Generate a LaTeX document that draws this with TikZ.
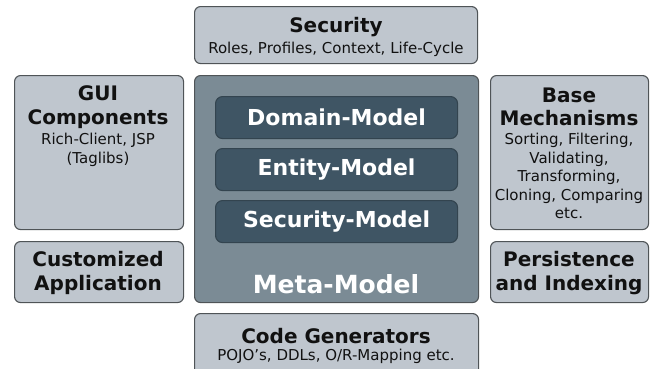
\documentclass[tikz,border=0pt]{standalone}
\usepackage{fontspec}
\setmainfont{DejaVu Sans}
\definecolor{lightfill}{HTML}{BFC6CE}
\definecolor{edgegrey}{HTML}{4F5457}
\definecolor{metafill}{HTML}{7B8B95}
\definecolor{innerfill}{HTML}{3F5564}
\definecolor{inneredge}{HTML}{33444F}
\definecolor{inktext}{HTML}{111111}
\tikzset{
  boxbase/.style={rounded corners=6pt, line width=1.1pt, inner sep=0pt, anchor=north west},
  lightbox/.style={boxbase, draw=edgegrey, fill=lightfill},
  metabox/.style={boxbase, draw=edgegrey, fill=metafill},
  innerbox/.style={boxbase, draw=inneredge, fill=innerfill, rounded corners=7pt},
  titletext/.style={font=\fontsize{20}{23.5}\selectfont\bfseries, text=inktext, align=center, inner sep=0pt},
  subtext/.style={font=\fontsize{15}{18.5}\selectfont, text=inktext, align=center, inner sep=0pt},
  innertext/.style={font=\fontsize{22}{24}\selectfont\bfseries, text=white, inner sep=0pt},
  metatext/.style={font=\fontsize{25}{27}\selectfont\bfseries, text=white, inner sep=0pt},
}
\begin{document}
\begin{tikzpicture}[x=1pt,y=-1pt]
\useasboundingbox (0,0) rectangle (650,368);
% boxes
\node[lightbox, minimum width=283pt, minimum height=57pt] (secbox) at (194,6) {};
\node[lightbox, minimum width=169pt, minimum height=154pt] (guibox) at (14,75) {};
\node[metabox, minimum width=284pt, minimum height=227pt] (metabox) at (194,75) {};
\node[lightbox, minimum width=158pt, minimum height=154pt] (basebox) at (490,75) {};
\node[lightbox, minimum width=169pt, minimum height=61pt] (custbox) at (14,241) {};
\node[lightbox, minimum width=158pt, minimum height=61pt] (persbox) at (490,241) {};
\node[lightbox, minimum width=284pt, minimum height=62pt] (codebox) at (194,313) {};
\node[innerbox, minimum width=242pt, minimum height=42pt] (domainbox) at (215,96) {};
\node[innerbox, minimum width=242pt, minimum height=42pt] (entitybox) at (215,148) {};
\node[innerbox, minimum width=242pt, minimum height=42pt] (secmodelbox) at (215,200) {};
% texts
\node[titletext] (sectitle) at (336,27) {Security};
\node[subtext] (secsub) at (336,49) {Roles, Profiles, Context, Life-Cycle};
\node[titletext] (guititle) at (98,107) {GUI\\Components};
\node[subtext] (guisub) at (98,150) {Rich-Client, JSP\\(Taglibs)};
\node[titletext] (basetitle) at (569,107) {Base\\Mechanisms};
\node[subtext] (basesub) at (569,176) {Sorting, Filtering,\\Validating,\\Transforming,\\Cloning, Comparing\\etc.};
\node[titletext] (custtitle) at (98,273) {Customized\\Application};
\node[titletext] (perstitle) at (569,273) {Persistence\\and Indexing};
\node[titletext] (codetitle) at (336,336) {Code Generators};
\node[subtext] (codesub) at (336,356) {POJO’s, DDLs, O/R-Mapping etc.};
\node[innertext] (domaintext) at (domainbox.center) {Domain-Model};
\node[innertext] (entitytext) at (entitybox.center) {Entity-Model};
\node[innertext] (secmodeltext) at (secmodelbox.center) {Security-Model};
\node[metatext] (metatitle) at (336,284) {Meta-Model};
\end{tikzpicture}
\end{document}
